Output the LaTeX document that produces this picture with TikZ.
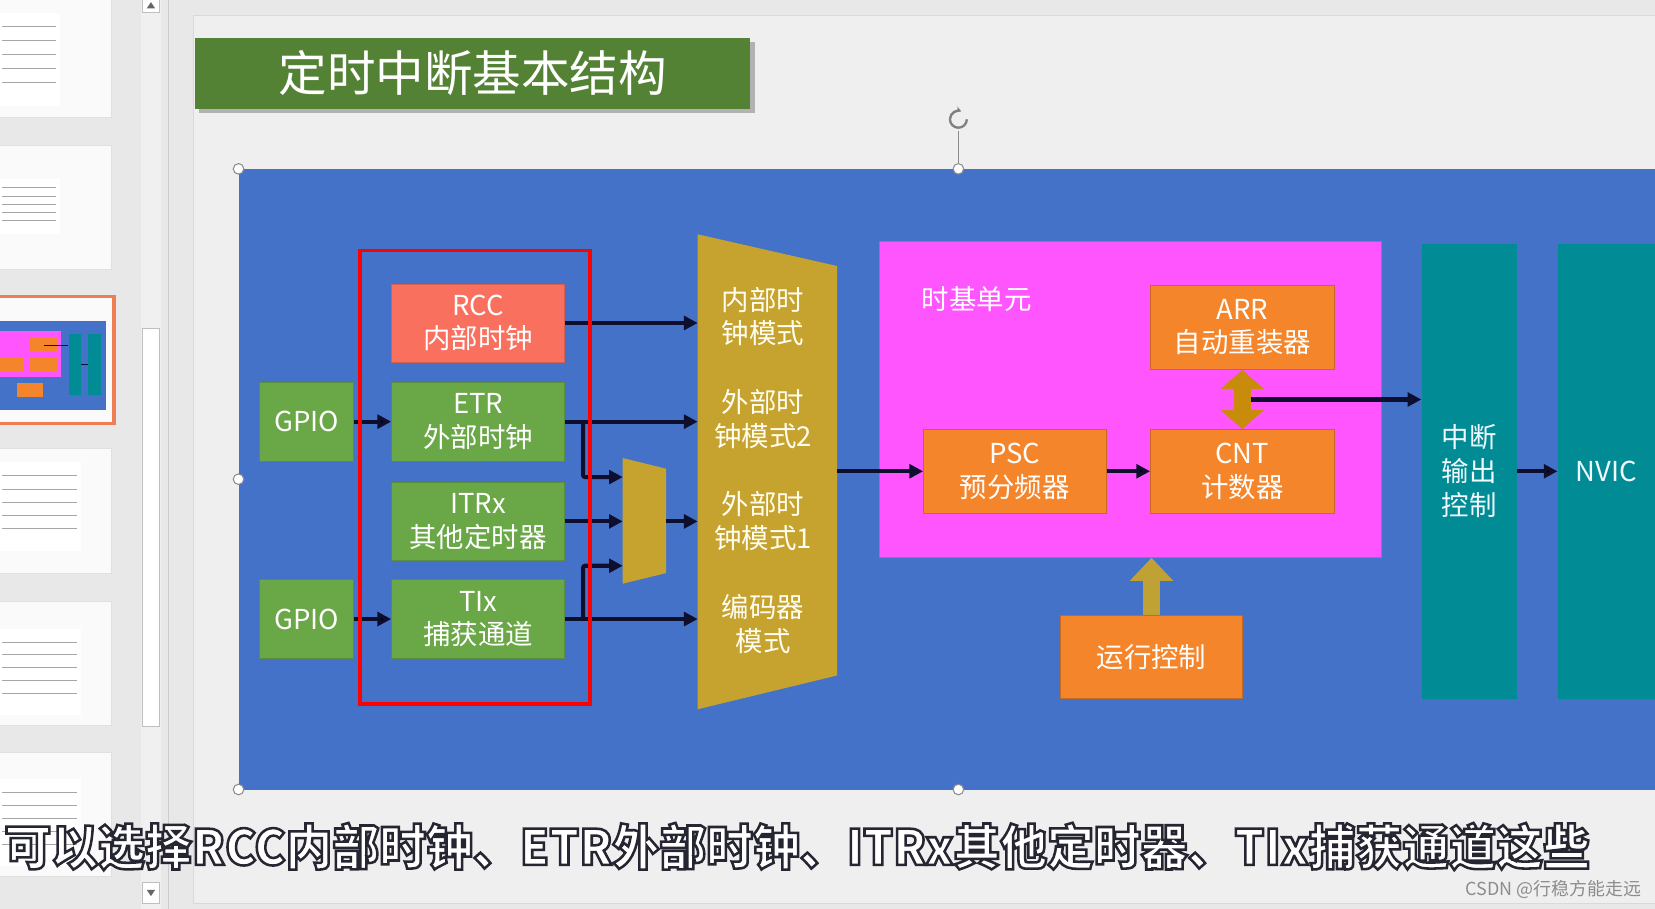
\documentclass[tikz,border=0pt]{standalone}
\usepackage{fontspec}
\setmainfont{Noto Sans CJK SC}
\newfontfamily\capfont{Noto Sans CJK SC}[FakeStretch=0.965]
\usetikzlibrary{arrows.meta,calc}

\definecolor{panegrey}{HTML}{E8E8E8}
\definecolor{pagegrey}{HTML}{EFEFEF}
\definecolor{slideblue}{HTML}{4472C8}
\definecolor{titlegreen}{HTML}{548235}
\definecolor{boxgreen}{HTML}{6AA746}
\definecolor{rccred}{HTML}{F9705E}
\definecolor{muxgold}{HTML}{C6A22F}
\definecolor{tbpink}{HTML}{FF55FF}
\definecolor{boxorange}{HTML}{F5852A}
\definecolor{dualgold}{HTML}{C88B0C}
\definecolor{upgold}{HTML}{BFA233}
\definecolor{itteal}{HTML}{008B95}
\definecolor{wirecol}{HTML}{0E0E2E}
\definecolor{thumbedge}{HTML}{EE7F55}

% white text with a dark outline (subtitle)
\newcommand\outlined[1]{\special{pdf:literal direct 0.15 0.15 0.2 RG 2.4 w 2 Tr}#1\special{pdf:literal direct 0 Tr}}

\begin{document}
\begin{tikzpicture}[x=1pt, y=-1pt,
  >={Triangle[length=13pt,width=13pt]} % arrow head style
  ]

\tikzstyle{block}=[shape=rectangle, inner sep=0pt, align=center, text=white,
  font=\fontsize{26}{32}\selectfont, line width=0.8pt]
\tikzstyle{srcbox}=[block, fill=boxgreen, draw=boxgreen!85!black, minimum width=164pt, minimum height=75pt]
\tikzstyle{gpiobox}=[srcbox, minimum width=89pt]
\tikzstyle{tbbox}=[block, fill=boxorange, draw=boxorange!80!black, minimum width=174pt, minimum height=80pt]
\tikzstyle{tealbar}=[block, fill=itteal, minimum width=90pt, minimum height=431pt, text=cyan!6]
\tikzstyle{muxtext}=[block, text=yellow!6]
\tikzstyle{wire}=[->, draw=wirecol, line width=3.8pt, rounded corners=2pt]
\tikzstyle{handle}=[draw=black!45, fill=white, line width=1pt]
\tikzstyle{thumb}=[draw=black!12, fill=black!2, line width=0.8pt]

\useasboundingbox (0,0) rectangle (1568,861);

% window
\fill[panegrey] (0,0) rectangle (1568,861);
\draw[black!15, fill=pagegrey, line width=1pt] (183,15) rectangle (1580,856);
\draw[black!20, line width=1pt] (160,0) -- (160,861);

% slide thumbnails
\foreach \ya/\yb/\ia/\ib/\iw in {-6/111/12/100/57, 138/255/170/222/57, 425/543/438/522/77, 570/687/596/677/77, 713/830/738/820/77}{
  \draw[thumb] (-2,\ya) rectangle (106,\yb);
  \fill[white] (0,\ia) rectangle (\iw,\ib);
  \foreach \k in {0.15,0.3,...,0.9}
    \draw[black!35, line width=0.6pt] (2,{\ia+\k*(\ib-\ia)}) -- ({\iw-4},{\ia+\k*(\ib-\ia)});
}
\draw[thumbedge, fill=black!2, line width=3pt] (-2,281) rectangle (108,401);
\fill[slideblue] (0,304) rectangle (100,388);
\fill[tbpink] (0,314) rectangle (58,357);
\fill[boxorange] (28,320) rectangle (54,333);
\fill[boxorange] (0,339) rectangle (22,352);
\fill[boxorange] (28,339) rectangle (54,352);
\fill[boxorange] (16,363) rectangle (41,376);
\fill[itteal] (65,316) rectangle (77,374);
\fill[itteal] (83,316) rectangle (96,374);
\draw[wirecol, line width=1pt] (42,327) -- (64,327);
\draw[wirecol, line width=1pt] (77,345) -- (83,345);

% scroll bar
\fill[black!6] (134,0) rectangle (153,861);
\draw[black!25, fill=white, line width=0.8pt] (135,311) rectangle (151,688);
\draw[black!25, fill=white, line width=0.8pt] (135,-2) rectangle (151,12);
\fill[black!60] (139,8) -- (147,8) -- (143,2) -- cycle;
\draw[black!25, fill=white, line width=0.8pt] (135,836) rectangle (151,856);
\fill[black!60] (139,843) -- (147,843) -- (143,849) -- cycle;

% title
\fill[black!30] (189,40) rectangle (715,107);
\node[block, fill=titlegreen, minimum width=526pt, minimum height=67pt,
  font=\fontsize{46}{50}\selectfont] (title) at (448,69.5) {定时中断基本结构};

% diagram background
\fill[slideblue] (226,160) rectangle (1568,748);

% clock sources
\node[block, fill=rccred, draw=rccred!85!black, minimum width=164pt, minimum height=74pt] (RCC) at (453,306) {RCC\\内部时钟};
\node[srcbox] (ETR) at (453,399.5) {ETR\\外部时钟};
\node[srcbox, minimum height=74pt] (ITR) at (453,494) {ITRx\\其他定时器};
\node[srcbox] (TI) at (453,586.5) {TIx\\捕获通道};
\node[gpiobox] (G1) at (290.5,399.5) {GPIO};
\node[gpiobox] (G2) at (290.5,586.5) {GPIO};

% small selector
\coordinate (sA) at (590,434);
\coordinate (sB) at (631,444);
\coordinate (sC) at (631,543);
\coordinate (sD) at (590,553);
\fill[muxgold] (sA) -- (sB) -- (sC) -- (sD) -- cycle;
\coordinate (s1) at (590,452);
\coordinate (s2) at (590,494);
\coordinate (s3) at (590,536);
\coordinate (sO) at (631,494);

% mode selector
\coordinate (mA) at (661,222);
\coordinate (mB) at (793,252);
\coordinate (mC) at (793,640);
\coordinate (mD) at (661,672);
\fill[muxgold] (mA) -- (mB) -- (mC) -- (mD) -- cycle;
\coordinate (mO) at (793,446.5);
\node[muxtext] (m1) at (723,300) {内部时\\钟模式};
\node[muxtext] (m2) at (723,397) {外部时\\钟模式2};
\node[muxtext] (m3) at (723,494) {外部时\\钟模式1};
\node[muxtext] (m4) at (723,591) {编码器\\模式};

% time base unit
\node[block, fill=tbpink, draw=tbpink!85!black, minimum width=476pt, minimum height=299pt] (TB) at (1071,378.5) {};
\node[block, anchor=west] (TBlabel) at (873,283) {时基单元};
\node[tbbox] (ARR) at (1177,310) {ARR\\自动重装器};
\node[tbbox, minimum width=173pt, minimum height=79pt] (PSC) at (961.5,446.5) {PSC\\预分频器};
\node[tbbox, minimum height=79pt] (CNT) at (1177,446.5) {CNT\\计数器};
\node[tbbox, minimum width=172pt, minimum height=79pt] (RUN) at (1091,622.5) {运行控制};

% interrupt output
\node[tealbar] (IRQ) at (1392,446.5) {中断\\输出\\控制};
\node[tealbar, minimum width=92pt] (NVIC) at (1522,446.5) {NVIC};

% connections
\path[wire] (G1) edge (ETR);
\path[wire] (G2) edge (TI);
\draw[wire] (RCC.east) -- (RCC.east -| mA);
\draw[wire] (ETR.east) -- (ETR.east -| mA);
\draw[wire] (TI.east) -- (TI.east -| mA);
\coordinate (j1) at ($(ETR.east)+(17,0)$);
\coordinate (j2) at ($(TI.east)+(17,0)$);
\draw[wire] (j1) |- (s1);
\draw[wire] (ITR.east) -- (s2);
\draw[wire] (j2) |- (s3);
\draw[wire] (sO) -- (sO -| mA);
\draw[wire] (mO) -- (PSC.west);
\path[wire] (PSC) edge (CNT);
\draw[line width=16pt, draw=dualgold, {Triangle[length=18pt,width=40pt]}-{Triangle[length=18pt,width=40pt]}] (ARR.south) -- (CNT.north);
\coordinate (dm) at ($(ARR.south)!0.5!(CNT.north)$);
\draw[wire] ([xshift=8pt]dm) -- (dm -| IRQ.west);
\draw[line width=16pt, draw=upgold, -{Triangle[length=22pt,width=40pt]}] (RUN.north) -- (RUN.north |- TB.south);
\path[wire] (IRQ) edge (NVIC);

% selected sources
\node[draw=red, line width=3pt, minimum width=218pt, minimum height=430pt] (sel) at (450,452) {};

% selection handles
\draw[black!45, line width=1pt] (908,124) -- (908,160);
\draw[black!50, line width=2.2pt, -{Stealth[length=5pt,width=6pt]}] (916,113) arc[start angle=0, end angle=290, radius=8];
\foreach \p in {(226,160),(908,160),(226,454),(226,748),(908,748)}
  \draw[handle] \p circle (5);

% subtitle and watermark
\node[anchor=west, inner sep=0pt, text=white, font=\capfont\bfseries\fontsize{46}{50}\selectfont] (cap) at (4,802) {\outlined{可以选择RCC内部时钟、ETR外部时钟、ITRx其他定时器、TIx捕获通道这些}};
\node[anchor=east, inner sep=0pt, text=black!45, font=\fontsize{17}{20}\selectfont] (wm) at (1555,843) {CSDN @行稳方能走远};

\end{tikzpicture}
\end{document}
